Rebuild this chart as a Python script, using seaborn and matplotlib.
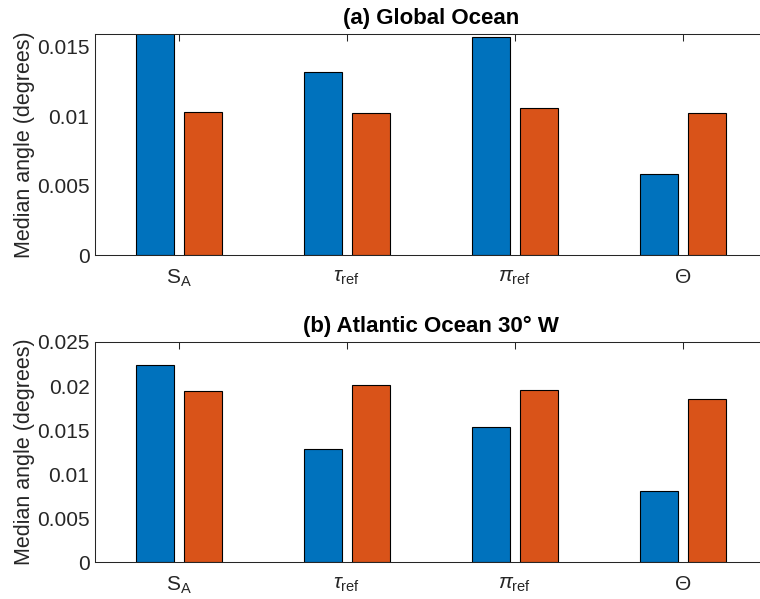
import matplotlib
matplotlib.use("Agg")
import matplotlib.pyplot as plt
import seaborn as sns
import pandas as pd

categories = [r"$\mathrm{S_A}$", r"$\tau_{\mathrm{ref}}$", r"$\pi_{\mathrm{ref}}$", r"$\Theta$"]
series_names = ["Series 1", "Series 2"]
global_s1 = [0.0166, 0.0132, 0.0157, 0.00585]
global_s2 = [0.0103, 0.0102, 0.0106, 0.0102]
atlantic_s1 = [0.0224, 0.0129, 0.0154, 0.0081]
atlantic_s2 = [0.0194, 0.0201, 0.0195, 0.0185]
titles = ["(a) Global Ocean", "(b) Atlantic Ocean 30° W"]
ylims = [0.0159, 0.025]
yticks = [[0, 0.005, 0.01, 0.015], [0, 0.005, 0.01, 0.015, 0.02, 0.025]]
ylabel = "Median angle (degrees)"

sns.set_theme(style="white")
plt.rcParams["font.family"] = ["Liberation Sans", "DejaVu Sans"]
plt.rcParams["mathtext.fontset"] = "custom"
plt.rcParams["mathtext.rm"] = "Liberation Sans"
plt.rcParams["mathtext.it"] = "Liberation Sans:italic"
plt.rcParams["mathtext.bf"] = "Liberation Sans:bold"

def make_df(s1, s2):
    rows = []
    for c, a, b in zip(categories, s1, s2):
        rows.append({"cat": c, "series": series_names[0], "val": a})
        rows.append({"cat": c, "series": series_names[1], "val": b})
    return pd.DataFrame(rows)

dfs = [make_df(global_s1, global_s2), make_df(atlantic_s1, atlantic_s2)]
palette = {series_names[0]: "#0072BD", series_names[1]: "#D95319"}

fig = plt.figure(figsize=(7.6, 5.99), dpi=100)
positions = [[0.125, 0.574, 0.884, 0.369], [0.125, 0.0613, 0.884, 0.3678]]
edge = "#262626"
for i, df in enumerate(dfs):
    ax = fig.add_axes(positions[i])
    sns.barplot(data=df, x="cat", y="val", hue="series", palette=palette,
                width=0.573, gap=0.21, edgecolor="black", linewidth=0.8,
                saturation=1, legend=False, ax=ax, order=categories)
    ax.set_xlim(-0.5, 3.5)
    ax.set_ylim(0, ylims[i])
    ax.set_yticks(yticks[i])
    ax.set_yticklabels([f"{v:g}" for v in yticks[i]])
    ax.set_xlabel("")
    ax.set_ylabel(ylabel, fontsize=15.5, color=edge, labelpad=1)
    ax.set_title(titles[i], fontsize=16, fontweight="bold", color="black", pad=7)
    for s in ax.spines.values():
        s.set_visible(True)
        s.set_color(edge)
        s.set_linewidth(0.75)
    ax.tick_params(axis="both", direction="in", length=5, width=0.75, color=edge,
                   labelsize=15, labelcolor=edge, top=True, right=True, pad=4)
    ax.tick_params(axis="x", pad=9)
    ax.grid(False)

fig.savefig("out.png", dpi=100)
